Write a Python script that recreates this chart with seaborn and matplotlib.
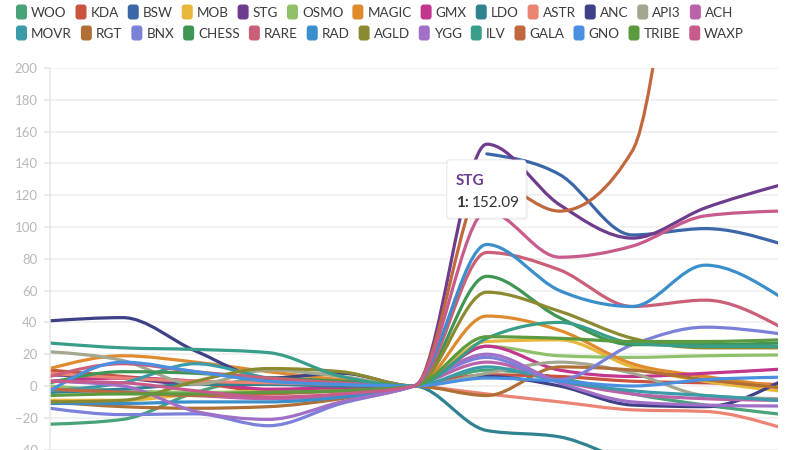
import numpy as np
import pandas as pd
import matplotlib
matplotlib.use('Agg')
import matplotlib.pyplot as plt
import seaborn as sns
from matplotlib.path import Path
from matplotlib.patches import PathPatch, FancyBboxPatch
from matplotlib.transforms import IdentityTransform

nan = np.nan

# days around the event (0 = reference day, all series normalised to 0 there)
days = [-5, -4, -3, -2, -1, 0, 1, 2, 3, 4, 5]

# % change per coin
woo = [-24, -21, -4, 5, 3, 0, 10, 5, -5, -12, -17.6]
kda = [10, 6, 2, -3, -3, 0, 7, 6, 3, 2, 1]
bsw = [nan, nan, nan, nan, nan, nan, 146, 133, 95, 99, 90]
mob = [-9, -9, -5, -3, -2, 0, 28, 29, 12, 3, -3]
stg = [7, 5, 1, 1, 2, 0, 152.09, 114, 93, 112, 126]
osmo = [0, -3, -4, -4, -3, 0, 25, 19, 18, 19, 19.5]
magic = [11, 19, 15, 9, 4, 0, 44, 35, 14, 6, 0]
gmx = [3, 5, 3, -2, -1, 0, 25, 10, 6, 8, 10.5]
ldo = [-4, -2, 1, 1, 0, 0, -28, -32, -48, -55, -58]
astr = [8, 5, 3, 2, 1, 0, -5, -10, -15, -16, -25.6]
anc = [41, 43, 22, 5, 8, 0, 6, 0, -12, -13, 2]
api3 = [21.5, 16, 1, 10, 6, 0, 8, 15, 8, -6, -8]
ach = [-2, -4, -6, -8, -6, 0, 15, 3, -5, -8, -9]
movr = [-3, 2, 14, 5, 1, 0, 12, 3, -3, -6, -9]
rgt = [-10, -13, -14, -13, -8, 0, -6, 12, 10, 4, -1]
bnx = [-14, -18, -17.5, -25, -11, 0, 18, 4, 26, 37, 33]
chess = [2, 9, 8, 5, 3, 0, 69, 43, 26, 26, 27]
rare = [6, 14, 9, 5, 2, 0, 84, 73, 50, 54, 38]
rad = [-11, -11, -10, -10, -7, 0, 89, 60, 50, 76, 57]
agld = [-10, -9, 3, 11, 9, 0, 59, 47, 30, 24, 24]
ygg = [3, 0, -16, -21, -10, 0, 20, 2, -10, -12, -12.6]
ilv = [27, 24, 23, 21, 6, 0, 30, 40, 27, 25, 25]
gala = [-2, -4, -6, -5, -3, 0, 130, 110, 148, 450, 750]
gno = [-3, 15, 9, 3, 1, 0, 5, 3, 0, 4, 5.5]
tribe = [-6, -5, -5, -4, -3, 0, 31, 30, 28, 28, 29]
waxp = [3, 2, -3, -7, -5, 0, 110, 81, 88, 107, 110]

coins = ['WOO', 'KDA', 'BSW', 'MOB', 'STG', 'OSMO', 'MAGIC', 'GMX', 'LDO', 'ASTR', 'ANC', 'API3', 'ACH',
         'MOVR', 'RGT', 'BNX', 'CHESS', 'RARE', 'RAD', 'AGLD', 'YGG', 'ILV', 'GALA', 'GNO', 'TRIBE', 'WAXP']
values = [woo, kda, bsw, mob, stg, osmo, magic, gmx, ldo, astr, anc, api3, ach,
          movr, rgt, bnx, chess, rare, rad, agld, ygg, ilv, gala, gno, tribe, waxp]
colors = ['#48a37a', '#c9533f', '#3b66a8', '#e9b73c', '#6e3c8c', '#8fc06a', '#e08a2e', '#c2368d',
          '#2f8290', '#ec8473', '#3e4188', '#a3a78f', '#bb63a9', '#3b9ba9', '#b06f35', '#7b80d9',
          '#3f9552', '#cb5f78', '#3a8fcb', '#8b8a30', '#a06fc7', '#389e8a', '#c1683f', '#4a8fe0',
          '#5b9a3f', '#c75b8c']
palette = dict(zip(coins, colors))

df = pd.DataFrame({
    'day': days * len(coins),
    'coin': [c for c in coins for _ in days],
    'change': [v for vals in values for v in vals],
})


def monotone_path(x, y):
    # same curve as d3.curveMonotoneX, as cubic bezier segments
    n = len(x)
    h = np.diff(x)
    s = np.diff(y) / h
    t = np.zeros(n)
    for i in range(1, n - 1):
        p = (s[i - 1] * h[i] + s[i] * h[i - 1]) / (h[i - 1] + h[i])
        t[i] = (np.sign(s[i - 1]) + np.sign(s[i])) * min(abs(s[i - 1]), abs(s[i]), 0.5 * abs(p))
    if n > 2:
        t[0] = (3 * s[0] - t[1]) / 2
        t[-1] = (3 * s[-1] - t[-2]) / 2
    else:
        t[:] = s[0]
    verts = [(x[0], y[0])]
    codes = [Path.MOVETO]
    for i in range(n - 1):
        dx = h[i] / 3
        verts += [(x[i] + dx, y[i] + dx * t[i]), (x[i + 1] - dx, y[i + 1] - dx * t[i + 1]), (x[i + 1], y[i + 1])]
        codes += [Path.CURVE4] * 3
    return Path(verts, codes)


sns.set_theme(style='white')
plt.rcParams['font.family'] = ['Lato', 'DejaVu Sans']

W, H = 800, 450
fig = plt.figure(figsize=(8, 4.5), dpi=100)
ax = fig.add_axes([50 / W, 0.4 / H, 728 / W, 381.6 / H])

sns.lineplot(data=df, x='day', y='change', hue='coin', hue_order=coins, palette=palette,
             legend=False, ax=ax, lw=2.3)

# smooth the lines like the original (monotone curve)
for line in list(ax.lines):
    xy = line.get_xydata()
    xy = xy[np.isfinite(xy).all(axis=1)]
    if len(xy) > 1:
        patch = PathPatch(monotone_path(xy[:, 0], xy[:, 1]), fill=False, edgecolor=line.get_color(),
                          lw=2.3, capstyle='round', joinstyle='round')
        ax.add_patch(patch)
    line.set_visible(False)

ax.set_xlim(-5, 5)
ax.set_ylim(-40, 200)
ax.set_yticks(range(-40, 201, 20))
ax.set_xticks([])
ax.set_xlabel('')
ax.set_ylabel('')
ax.grid(axis='y', color='#ededed', lw=1.1)
ax.set_axisbelow(True)
for side in ['top', 'right', 'bottom']:
    ax.spines[side].set_visible(False)
ax.spines['left'].set_color('#e6e6e6')
ax.spines['left'].set_linewidth(1.1)
ax.tick_params(axis='y', left=True, length=4, width=1.1, color='#e6e6e6', labelcolor='#b8b8b8',
               labelsize=9.5, pad=5)

# legend, two flowing rows
renderer = fig.canvas.get_renderer()
rows = [coins[:13], coins[13:]]
row_y = [12, 33]
for row, ry in zip(rows, row_y):
    x = 16
    for c in row:
        box = FancyBboxPatch((x, H - ry - 7.5), 11, 15, boxstyle='round,pad=0,rounding_size=3',
                             facecolor=palette[c], edgecolor='none', transform=IdentityTransform())
        fig.add_artist(box)
        t = fig.text(x + 15, H - ry - 5, c, transform=IdentityTransform(), ha='left', va='baseline',
                     fontsize=9.7, color='#3b3b3b')
        w = t.get_window_extent(renderer).width
        x += 15 + w + 9

# tooltip for STG at day 1
i = days.index(1)
shadow = FancyBboxPatch((446, H - 220), 82, 61, boxstyle='round,pad=0,rounding_size=4',
                        facecolor='#000000', alpha=0.06, edgecolor='none', transform=IdentityTransform())
fig.add_artist(shadow)
tip = FancyBboxPatch((447, H - 218), 79, 58, boxstyle='round,pad=0,rounding_size=4',
                     facecolor='white', edgecolor='#eeeeee', lw=0.6, transform=IdentityTransform())
fig.add_artist(tip)
fig.text(456, H - 185, 'STG', transform=IdentityTransform(), ha='left', va='baseline',
         fontsize=11, fontweight='bold', color=palette['STG'])
lab = fig.text(456, H - 207, f'{days[i]}:', transform=IdentityTransform(), ha='left', va='baseline',
               fontsize=11, fontweight='bold', color='#333333')
lw_ = lab.get_window_extent(renderer).width
fig.text(456 + lw_ + 3, H - 207, f'{stg[i]:.2f}', transform=IdentityTransform(), ha='left',
         va='baseline', fontsize=11, color='#333333')

fig.savefig('out.png', dpi=100)
